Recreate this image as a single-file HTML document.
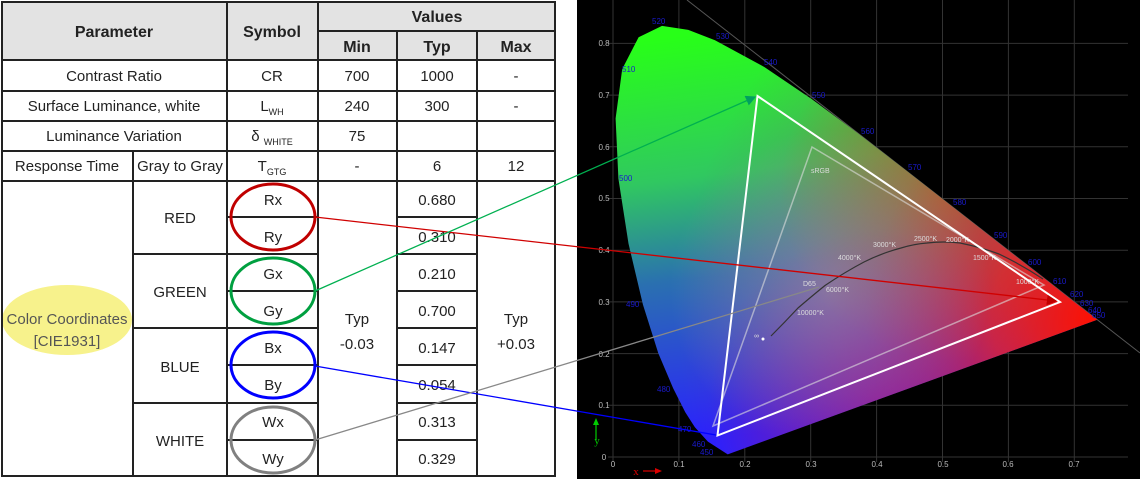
<!DOCTYPE html>
<html><head><meta charset="utf-8"><style>
html,body{margin:0;padding:0;background:#fff}
svg{display:block}
.t{font-family:"Liberation Sans",sans-serif;font-size:15px;fill:#222;text-anchor:middle}
.b{font-weight:bold;font-size:16px}
.g{font-family:"Liberation Sans",sans-serif;font-size:8px;fill:#bbb;text-anchor:middle}
.w{font-family:"Liberation Sans",sans-serif;font-size:8px;fill:#1a1acc}
.k{font-family:"Liberation Sans",sans-serif;font-size:7px;fill:#ddd}
</style></head><body>
<svg width="1140" height="479" viewBox="0 0 1140 479" xmlns="http://www.w3.org/2000/svg">
<defs>
<clipPath id="loc"><path d="M727.7,454.4 L707.9,441.6 694.8,427.1 685.2,412.1 673.2,388.4 658.3,353.2 642.9,304.5 628.5,243.6 618.4,178.6 615.6,118.5 622.2,69.1 638.6,37.2 662,25.9 688.3,29.9 715,40.3 764.3,67 811.8,99.1 858.9,134.1 905.7,170.2 950.7,205.4 992.1,237.7 1026.2,264.4 1051.8,284.3 1068.7,297.6 1086.8,311.8 1097.2,319.8 Z"/></clipPath>
<linearGradient id="gb" gradientUnits="userSpaceOnUse" x1="650" y1="40" x2="700" y2="440">
<stop offset="0" stop-color="#28ff18"/><stop offset="0.35" stop-color="#30c860"/><stop offset="0.6" stop-color="#2a70b0"/><stop offset="1" stop-color="#2a20ff"/></linearGradient>
<radialGradient id="rd" gradientUnits="userSpaceOnUse" cx="1097" cy="319" r="420">
<stop offset="0" stop-color="#ff1000" stop-opacity="1"/><stop offset="0.25" stop-color="#f02020" stop-opacity="0.8"/><stop offset="0.55" stop-color="#c02060" stop-opacity="0.3"/><stop offset="1" stop-color="#c02060" stop-opacity="0"/></radialGradient>
<radialGradient id="yl" gradientUnits="userSpaceOnUse" cx="950" cy="190" r="170">
<stop offset="0" stop-color="#b88a00" stop-opacity="0.75"/><stop offset="1" stop-color="#b88a00" stop-opacity="0"/></radialGradient>
<radialGradient id="mg" gradientUnits="userSpaceOnUse" cx="880" cy="400" r="170">
<stop offset="0" stop-color="#c0106a" stop-opacity="0.5"/><stop offset="1" stop-color="#c0106a" stop-opacity="0"/></radialGradient>
<radialGradient id="ct" gradientUnits="userSpaceOnUse" cx="830" cy="290" r="160">
<stop offset="0" stop-color="#b8a8a8" stop-opacity="0.45"/><stop offset="1" stop-color="#b8a8a8" stop-opacity="0"/></radialGradient>
<marker id="ag" markerWidth="8" markerHeight="8" refX="7" refY="4" orient="auto"><path d="M0,0 L8,4 L0,8Z" fill="#00a060"/></marker>
<marker id="ar" markerWidth="8" markerHeight="8" refX="7" refY="4" orient="auto"><path d="M0,0 L8,4 L0,8Z" fill="#c00000"/></marker>
</defs>
<rect x="577" y="0" width="563" height="479" fill="#000"/>
<g stroke="#333" stroke-width="1">
<line x1="678.9" y1="0" x2="678.9" y2="462"/><line x1="744.8" y1="0" x2="744.8" y2="462"/><line x1="810.7" y1="0" x2="810.7" y2="462"/><line x1="876.6" y1="0" x2="876.6" y2="462"/><line x1="942.5" y1="0" x2="942.5" y2="462"/><line x1="1008.4" y1="0" x2="1008.4" y2="462"/><line x1="1074.3" y1="0" x2="1074.3" y2="462"/>
<line x1="613" y1="0" x2="613" y2="462"/>
<line x1="608" y1="405.3" x2="1128" y2="405.3"/><line x1="608" y1="353.6" x2="1128" y2="353.6"/><line x1="608" y1="301.9" x2="1128" y2="301.9"/><line x1="608" y1="250.2" x2="1128" y2="250.2"/><line x1="608" y1="198.5" x2="1128" y2="198.5"/><line x1="608" y1="146.8" x2="1128" y2="146.8"/><line x1="608" y1="95.1" x2="1128" y2="95.1"/><line x1="608" y1="43.4" x2="1128" y2="43.4"/><line x1="608" y1="457" x2="1128" y2="457"/>
</g>
<line x1="687" y1="0" x2="1140" y2="353" stroke="#555" stroke-width="1"/>
<g class="g">
<text x="604" y="46">0.8</text><text x="604" y="98">0.7</text><text x="604" y="150">0.6</text><text x="604" y="201">0.5</text><text x="604" y="253">0.4</text><text x="604" y="305">0.3</text><text x="604" y="357">0.2</text><text x="604" y="408">0.1</text><text x="604" y="460">0</text>
<text x="613" y="467">0</text><text x="679" y="467">0.1</text><text x="745" y="467">0.2</text><text x="811" y="467">0.3</text><text x="877" y="467">0.4</text><text x="943" y="467">0.5</text><text x="1008" y="467">0.6</text><text x="1074" y="467">0.7</text>
</g>
<g clip-path="url(#loc)">
<rect x="600" y="20" width="510" height="440" fill="url(#gb)"/>
<rect x="600" y="20" width="510" height="440" fill="url(#yl)"/>
<rect x="600" y="20" width="510" height="440" fill="url(#rd)"/>
<rect x="600" y="20" width="510" height="440" fill="url(#mg)"/>
<rect x="600" y="20" width="510" height="440" fill="url(#ct)"/>
</g>
<g class="w">
<text x="652" y="24">520</text><text x="716" y="39">530</text><text x="764" y="65">540</text><text x="812" y="98">550</text><text x="861" y="134">560</text><text x="908" y="170">570</text><text x="953" y="205">580</text><text x="994" y="238">590</text><text x="1028" y="265">600</text><text x="1053" y="284">610</text><text x="1070" y="297">620</text><text x="1080" y="306">630</text><text x="1088" y="313">640</text><text x="1092" y="318">650</text>
<text x="622" y="72">510</text><text x="619" y="181">500</text><text x="626" y="307">490</text><text x="657" y="392">480</text><text x="678" y="432">470</text><text x="692" y="447">460</text><text x="700" y="455">450</text>
</g>
<polygon points="812,147 1044,285 713,426" fill="none" stroke="#ddd" stroke-opacity="0.6" stroke-width="1.5"/>
<text class="k" x="811" y="173" font-size="9">sRGB</text>
<path d="M771,336 Q785,322 798,308 Q812,296 825,285.5 Q845,272 864,262 Q882,253 901,248 Q914,244 927,243 Q944,241 960,243 Q980,247 999,254 Q1022,265 1043,279" fill="none" stroke="#333" stroke-width="1.2"/>
<circle cx="763" cy="339" r="1.5" fill="#fff"/>
<g class="k"><text x="1016" y="284">1000°K</text><text x="973" y="260">1500°K</text><text x="946" y="242">2000°K</text><text x="914" y="241">2500°K</text><text x="873" y="247">3000°K</text><text x="838" y="260">4000°K</text><text x="803" y="286">D65</text><text x="826" y="292">6000°K</text><text x="797" y="315">10000°K</text><text x="754" y="338">∞</text></g>
<polygon points="757.5,96 1060,302 717.5,435.5" fill="none" stroke="#fff" stroke-width="2"/>
<line x1="596" y1="440" x2="596" y2="423" stroke="#0c0" stroke-width="1.2"/><path d="M593,425 L596,418 L599,425Z" fill="#0c0"/>
<text x="597" y="444" font-family="Liberation Serif,serif" font-size="11" fill="#0c0" text-anchor="middle">y</text>
<text x="636" y="475" font-family="Liberation Serif,serif" font-size="11" fill="#d00" text-anchor="middle">x</text>
<line x1="643" y1="471" x2="657" y2="471" stroke="#d00" stroke-width="1.2"/><path d="M655,468 L662,471 L655,474Z" fill="#d00"/>

<rect x="0" y="0" width="577" height="479" fill="#fff"/>
<rect x="2" y="2" width="553" height="58" fill="#e3e3e3"/>
<g class="t">
<text class="b" x="114" y="37">Parameter</text><text class="b" x="272" y="37">Symbol</text><text class="b" x="437" y="22">Values</text>
<text class="b" x="357" y="52">Min</text><text class="b" x="437" y="52">Typ</text><text class="b" x="516" y="52">Max</text>
<text x="114" y="81">Contrast Ratio</text><text x="272" y="81">CR</text><text x="357" y="81">700</text><text x="437" y="81">1000</text><text x="516" y="81">-</text>
<text x="114" y="111">Surface Luminance, white</text><text x="272" y="111">L<tspan font-size="9" dy="4">WH</tspan></text><text x="357" y="111">240</text><text x="437" y="111">300</text><text x="516" y="111">-</text>
<text x="114" y="141">Luminance Variation</text><text x="272" y="141">δ <tspan font-size="9" dy="4">WHITE</tspan></text><text x="357" y="141">75</text>
<text x="67" y="171">Response Time</text><text x="180" y="171">Gray to Gray</text><text x="272" y="171">T<tspan font-size="9" dy="4">GTG</tspan></text><text x="357" y="171">-</text><text x="437" y="171">6</text><text x="516" y="171">12</text>
</g>
<ellipse cx="67" cy="320" rx="65" ry="35" fill="#f7f28c"/>
<g class="t">
<text x="67" y="324" fill="#555">Color Coordinates</text><text x="67" y="346" fill="#555">[CIE1931]</text>
<text x="180" y="223">RED</text><text x="180" y="297">GREEN</text><text x="180" y="372">BLUE</text><text x="180" y="446">WHITE</text>
<text x="273" y="205">Rx</text><text x="273" y="242">Ry</text><text x="273" y="279">Gx</text><text x="273" y="316">Gy</text><text x="273" y="353">Bx</text><text x="273" y="390">By</text><text x="273" y="427">Wx</text><text x="273" y="464">Wy</text>
<text x="357" y="324">Typ</text><text x="357" y="349">-0.03</text><text x="516" y="324">Typ</text><text x="516" y="349">+0.03</text>
<text x="437" y="205">0.680</text><text x="437" y="242">0.310</text><text x="437" y="279">0.210</text><text x="437" y="316">0.700</text><text x="437" y="353">0.147</text><text x="437" y="390">0.054</text><text x="437" y="427">0.313</text><text x="437" y="464">0.329</text>
</g>
<g stroke="#222" stroke-width="2" fill="none">
<rect x="2" y="2" width="553" height="474"/>
<line x1="318" y1="31" x2="555" y2="31"/><line x1="2" y1="60" x2="555" y2="60"/><line x1="2" y1="91" x2="555" y2="91"/><line x1="2" y1="121" x2="555" y2="121"/><line x1="2" y1="151" x2="555" y2="151"/><line x1="2" y1="181" x2="555" y2="181"/>
<line x1="227" y1="2" x2="227" y2="476"/><line x1="318" y1="2" x2="318" y2="476"/><line x1="397" y1="31" x2="397" y2="476"/><line x1="477" y1="31" x2="477" y2="476"/>
<line x1="133" y1="151" x2="133" y2="476"/>
<line x1="133" y1="254" x2="318" y2="254"/><line x1="133" y1="328" x2="318" y2="328"/><line x1="133" y1="403" x2="318" y2="403"/>
<line x1="227" y1="217" x2="318" y2="217"/><line x1="227" y1="291" x2="318" y2="291"/><line x1="227" y1="365" x2="318" y2="365"/><line x1="227" y1="440" x2="318" y2="440"/>
<line x1="397" y1="217" x2="477" y2="217"/><line x1="397" y1="254" x2="477" y2="254"/><line x1="397" y1="291" x2="477" y2="291"/><line x1="397" y1="328" x2="477" y2="328"/><line x1="397" y1="365" x2="477" y2="365"/><line x1="397" y1="403" x2="477" y2="403"/><line x1="397" y1="440" x2="477" y2="440"/>
</g>
<g fill="none" stroke-width="3">
<ellipse cx="273" cy="217" rx="42" ry="33" stroke="#c00000"/>
<ellipse cx="273" cy="291" rx="42" ry="33" stroke="#00a040"/>
<ellipse cx="273" cy="365" rx="42" ry="33" stroke="#0000ff"/>
<ellipse cx="273" cy="440" rx="42" ry="33" stroke="#808080"/>
</g>
<g stroke-width="1.3" fill="none">
<line x1="315" y1="217" x2="1056" y2="301" stroke="#d00000" marker-end="url(#ar)"/>
<line x1="315" y1="291" x2="755" y2="97" stroke="#00b050" marker-end="url(#ag)"/>
<line x1="315" y1="366" x2="716" y2="435" stroke="#0000ff"/>
<line x1="315" y1="440" x2="819" y2="287" stroke="#888"/>
</g>
</svg>
</body></html>
